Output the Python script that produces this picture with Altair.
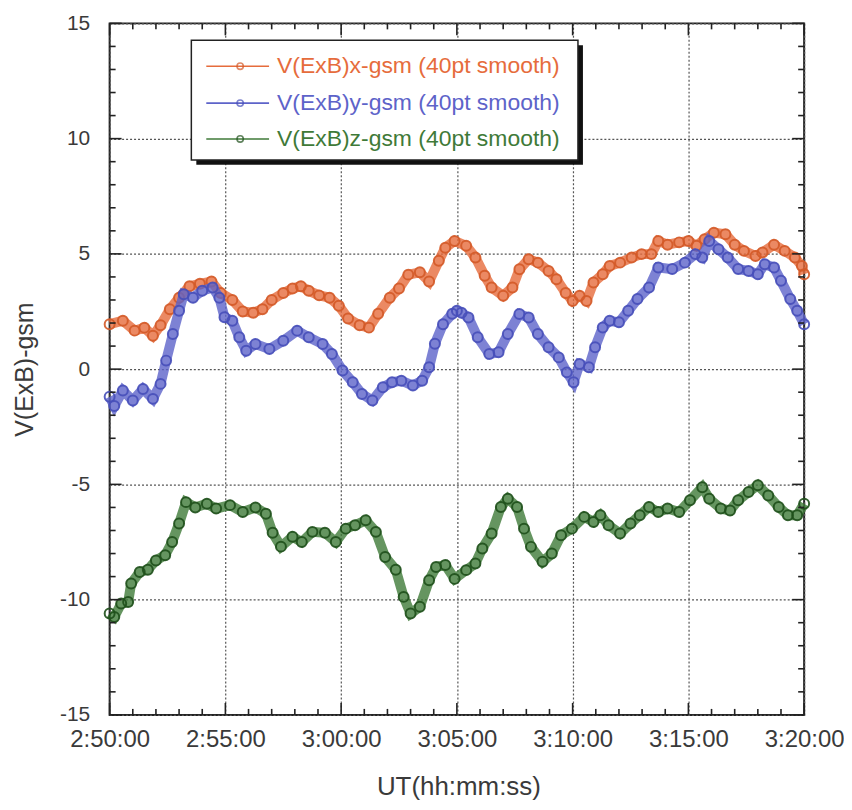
import altair as alt
import pandas as pd

# ---------------- data ----------------
x_tick_labels = ["2:50:00", "2:55:00", "3:00:00", "3:05:00", "3:10:00", "3:15:00", "3:20:00"]
x_tick_minutes = [0, 5, 10, 15, 20, 25, 30]
y_tick_values = [-15, -10, -5, 0, 5, 10, 15]
series_names = ["V(ExB)x-gsm (40pt smooth)", "V(ExB)y-gsm (40pt smooth)", "V(ExB)z-gsm (40pt smooth)"]

# minutes after 2:50:00
vx_t = [0, 0.57, 1.08, 1.5, 1.87, 2.2, 2.6, 3.0, 3.45, 3.9, 4.4, 4.8, 5.3, 5.75, 6.2, 6.6, 7.0, 7.5, 7.9,
        8.26, 8.6, 9.05, 9.5, 9.9, 10.3, 10.8, 11.2, 11.6, 12.1, 12.5, 12.9, 13.4, 13.8, 14.22, 14.5, 14.9,
        15.4, 15.8, 16.2, 16.5, 17.0, 17.4, 17.7, 18.1, 18.5, 18.96, 19.3, 19.7, 20.0, 20.3, 20.6, 20.9,
        21.3, 21.6, 22.05, 22.55, 22.98, 23.4, 23.7, 24.1, 24.6, 25.0, 25.35, 25.7, 26.1, 26.6, 27.0, 27.4,
        27.9, 28.2, 28.7, 29.16, 29.6, 29.9, 30.0]
vx_v = [1.95, 2.1, 1.67, 1.8, 1.45, 1.9, 2.6, 3.1, 3.6, 3.7, 3.8, 3.3, 3.0, 2.5, 2.45, 2.6, 3.0, 3.3, 3.5,
        3.6, 3.4, 3.2, 3.1, 2.75, 2.2, 1.9, 1.8, 2.4, 3.1, 3.5, 4.1, 4.2, 3.8, 4.7, 5.27, 5.56,
        5.35, 4.84, 4.05, 3.54, 3.18, 3.54, 4.33, 4.77, 4.62, 4.26, 3.9, 3.3, 2.96, 3.18, 2.96, 3.76,
        4.12, 4.48, 4.62, 4.84, 4.99, 4.99, 5.56, 5.4, 5.5, 5.56, 5.35, 5.64, 5.92, 5.85, 5.4, 5.13,
        4.91, 5.06, 5.4, 5.13, 4.84, 4.48, 4.12]

vy_t = [0, 0.2, 0.57, 1.0, 1.44, 1.87, 2.2, 2.44, 2.73, 3.0, 3.2, 3.6, 4.0, 4.45, 4.74, 4.96, 5.3, 5.6, 5.9,
        6.3, 6.9, 7.5, 8.1, 8.6, 9.2, 9.6, 10.06, 10.5, 10.9, 11.35, 11.8, 12.2, 12.6, 13.1, 13.5, 13.8,
        14.05, 14.4, 14.8, 15.0, 15.2, 15.5, 15.9, 16.4, 16.8, 17.2, 17.7, 18.1, 18.5, 18.96, 19.4, 19.75,
        20.04, 20.3, 20.7, 20.97, 21.3, 21.6, 22.0, 22.4, 22.8, 23.3, 23.7, 24.3, 24.85, 25.3, 25.6, 25.9,
        26.3, 26.7, 27.15, 27.6, 28.0, 28.3, 28.7, 29.0, 29.4, 29.7, 30.0]
vy_v = [-1.2, -1.6, -0.93, -1.36, -0.86, -1.29, -0.64, 0.37, 1.52, 2.53, 3.25, 3.1, 3.4, 3.54, 3.1, 2.25, 2.1,
        1.38, 0.8, 1.09, 0.87, 1.23, 1.67, 1.38, 1.09, 0.66, -0.06, -0.57, -1.08, -1.36, -0.79, -0.57, -0.5,
        -0.71, -0.5, 0.08, 1.1, 1.95, 2.4, 2.53, 2.45, 2.24, 1.38, 0.66, 0.73, 1.52, 2.39, 2.24, 1.52, 0.95,
        0.51, -0.14, -0.57, 0.22, 0.08, 0.95, 1.81, 2.1, 2.03, 2.53, 3.04, 3.54, 4.41, 4.34, 4.62, 4.99,
        4.84, 5.56, 5.2, 4.84, 4.34, 4.26, 4.12, 4.55, 4.41, 3.83, 3.04, 2.53, 1.95]

vz_t = [0, 0.2, 0.5, 0.8, 0.93, 1.3, 1.65, 2.0, 2.4, 2.7, 3.0, 3.3, 3.7, 4.2, 4.6, 5.2, 5.75, 6.3, 6.75,
        7.04, 7.4, 7.9, 8.3, 8.76, 9.3, 9.77, 10.2, 10.6, 11.06, 11.5, 11.9, 12.36, 12.7, 13.0, 13.4, 13.8,
        14.1, 14.5, 14.9, 15.4, 15.8, 16.1, 16.5, 16.9, 17.2, 17.6, 17.9, 18.2, 18.7, 19.1, 19.5, 19.97,
        20.5, 20.9, 21.2, 21.55, 22.05, 22.5, 22.9, 23.3, 23.7, 24.1, 24.6, 25.07, 25.6, 25.9, 26.4, 26.8,
        27.15, 27.6, 28.0, 28.45, 28.9, 29.3, 29.7, 30.0]
vz_v = [-10.6, -10.75, -10.17, -10.1, -9.3, -8.8, -8.7, -8.3, -8.07, -7.5, -6.7, -5.77, -6.0, -5.84, -6.05,
        -5.9, -6.2, -6.0, -6.27, -7.1, -7.7, -7.27, -7.5, -7.06, -7.1, -7.5, -6.92, -6.77, -6.56, -7.06,
        -8.15, -8.7, -9.88, -10.6, -10.31, -9.16, -8.58, -8.5, -9.1, -8.72, -8.43, -7.78, -7.13, -5.98,
        -5.62, -5.98, -6.92, -7.71, -8.36, -8.0, -7.21, -6.92, -6.41, -6.63, -6.34, -6.77, -7.13, -6.7,
        -6.34, -5.98, -6.2, -6.05, -6.2, -5.69, -5.12, -5.62, -6.05, -6.13, -5.69, -5.33, -5.04, -5.48,
        -5.98, -6.34, -6.34, -5.84]

line_colors = ["#e66c3c", "#5d63c9", "#3f7a38"]
point_colors = ["#d45a28", "#474fba", "#1f501b"]

# ---------------- layout ----------------
W, H = 697, 694
XDOM = [0, 30]
YDOM = [-15, 15]
FONT = "Liberation Sans"
TXT = "#3a3a3a"

label_expr = "[" + ",".join("'%s'" % s for s in x_tick_labels) + "][round(datum.value/5)]"

x_axis = alt.Axis(values=x_tick_minutes, labelExpr=label_expr, labelFontSize=24, labelFont=FONT,
                  labelColor=TXT, labelPadding=13, labelFlush=False, labelOverlap=False, ticks=False,
                  domain=False, grid=True, gridDash=[2, 2], gridColor="#555", gridWidth=1.2,
                  title="UT(hh:mm:ss)", titleFont=FONT, titleFontSize=26, titleFontWeight="normal",
                  titleColor=TXT, titleX=350, titleY=72, titleAlign="center", titleBaseline="middle")
y_axis = alt.Axis(values=y_tick_values, labelExpr="'' + datum.value", labelFontSize=21, labelFont=FONT,
                  labelColor=TXT, labelPadding=20,
                  labelOverlap=False, ticks=False, domain=False, grid=True, gridDash=[2, 2],
                  gridColor="#555", gridWidth=1.2, title="V(ExB)-gsm", titleFont=FONT, titleFontSize=25,
                  titleFontWeight="normal", titleColor=TXT, titleX=-85, titleY=347, titleAngle=-90,
                  titleAlign="center", titleBaseline="middle")

XS = alt.Scale(domain=XDOM, nice=False, zero=False)
YS = alt.Scale(domain=YDOM, nice=False, zero=False)


def xenc(field, axis=x_axis):
    return alt.X(field, type="quantitative", scale=XS, axis=axis)


def yenc(field, axis=y_axis):
    return alt.Y(field, type="quantitative", scale=YS, axis=axis)


layers = []
all_series = [(vx_t, vx_v), (vy_t, vy_v), (vz_t, vz_v)]
for i, (ts, vs) in enumerate(all_series):
    df = pd.DataFrame({"m": ts, "v": vs})
    base = alt.Chart(df)
    layers.append(base.mark_line(strokeWidth=10, opacity=0.8, color=line_colors[i]).encode(
        x=xenc("m"), y=yenc("v")))
    layers.append(base.mark_point(shape="circle", filled=False, size=100, strokeWidth=2,
                                  color=point_colors[i], opacity=0.9).encode(
        x=xenc("m"), y=yenc("v")))

# inner ticks (minor / major) on all four sides, drawn as short segments in data units
PX_X = (XDOM[1] - XDOM[0]) / W   # minutes per pixel
PX_Y = (YDOM[1] - YDOM[0]) / H   # units per pixel
y_minor = [v for v in range(-14, 15) if v % 5 != 0]
x_minor = [v for v in range(1, 30) if v % 5 != 0]
tick_rows = []
for v in y_minor + y_tick_values:
    ln = 12 if v in y_tick_values else 6
    tick_rows.append({"x": XDOM[0], "x2": XDOM[0] + ln * PX_X, "y": v, "y2": v})
    tick_rows.append({"x": XDOM[1] - ln * PX_X, "x2": XDOM[1], "y": v, "y2": v})
for v in x_minor + x_tick_minutes:
    ln = 12 if v in x_tick_minutes else 6
    tick_rows.append({"x": v, "x2": v, "y": YDOM[0], "y2": YDOM[0] + ln * PX_Y})
    tick_rows.append({"x": v, "x2": v, "y": YDOM[1] - ln * PX_Y, "y2": YDOM[1]})
ticks_df = pd.DataFrame(tick_rows)
layers.append(alt.Chart(ticks_df).mark_rule(color="#222", strokeWidth=1.6).encode(
    x=xenc("x"), x2="x2", y=yenc("y"), y2="y2"))

# legend box with drop shadow
one = alt.Data(values=[{}])
BX0, BX1, BY0, BY1 = 82, 470, 17, 137
layers.append(alt.Chart(one).mark_rect(color="#111").encode(
    x=alt.value(BX0 + 5), x2=alt.value(BX1 + 5), y=alt.value(BY0 + 5), y2=alt.value(BY1 + 5)))
layers.append(alt.Chart(one).mark_rect(fill="white", stroke="#222", strokeWidth=1.5).encode(
    x=alt.value(BX0), x2=alt.value(BX1), y=alt.value(BY0), y2=alt.value(BY1)))
rows = [43, 80, 116]
for i, name in enumerate(series_names):
    yy = rows[i]
    layers.append(alt.Chart(one).mark_rule(color=line_colors[i], strokeWidth=1.6).encode(
        x=alt.value(97), x2=alt.value(160), y=alt.value(yy)))
    layers.append(alt.Chart(one).mark_point(shape="circle", filled=False, size=40, strokeWidth=1.6,
                                            color=point_colors[i]).encode(
        x=alt.value(131), y=alt.value(yy)))
    layers.append(alt.Chart(one).mark_text(align="left", baseline="middle", font=FONT, fontSize=23,
                                           color=line_colors[i]).encode(
        x=alt.value(168), y=alt.value(yy), text=alt.value(name)))

chart = alt.layer(*layers).properties(
    width=W, height=H,
    autosize=alt.AutoSizeParams(type="none"),
    padding={"left": 102, "top": 14, "right": 40, "bottom": 90},
    background="white",
).configure_view(stroke="#222", strokeWidth=2)

chart.save("out.html", embed_options={"renderer": "svg", "actions": False})
